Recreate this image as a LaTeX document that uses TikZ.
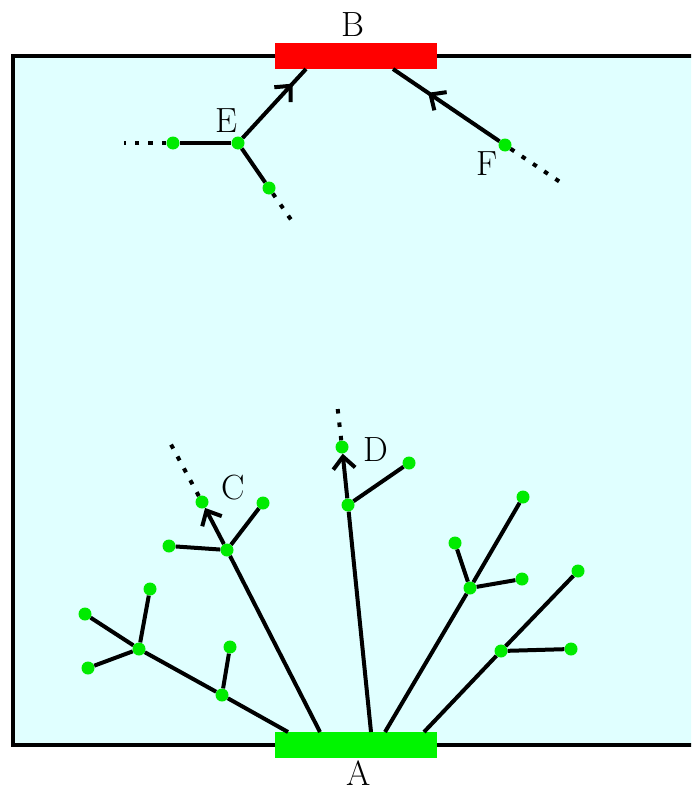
\documentclass[tikz,border=0pt]{standalone}
\usepackage{fontspec}
\usetikzlibrary{arrows.meta,decorations.markings}
\definecolor{bg}{RGB}{224,255,255}
\definecolor{dotgreen}{RGB}{0,235,0}
\definecolor{padgreen}{RGB}{0,245,0}
\definecolor{padred}{RGB}{255,0,0}
\tikzset{
  dotnode/.style={circle,fill=dotgreen,inner sep=0pt,minimum size=13pt},
  edge/.style={line width=4pt},
  dotline/.style={line width=4pt,dash pattern=on 4.5pt off 9pt},
  lbl/.style={font=\fontsize{35}{40}\selectfont,inner sep=0pt,anchor=base},
  tip/.style={-{Straight Barb[length=12pt,width=22pt]}},
  midtip/.style={postaction={decorate},decoration={markings,mark=at position #1 with {\arrow{Straight Barb[length=12pt,width=22pt]}}}},
  pad/.style={minimum width=162pt,minimum height=26pt,inner sep=0pt}
}
\begin{document}
\begin{tikzpicture}[x=1pt,y=-1pt]
\useasboundingbox (0,0) rectangle (691,792);
\clip (0,0) rectangle (691,792);
\draw[line width=4pt,fill=bg] (13,56) rectangle (710,745);
% pads
\node[pad,fill=padred] (B) at (356,56) {};
\node[pad,fill=padgreen] (A) at (356,745) {};
\node[lbl] (Blbl) at (353,37) {B};
\node[lbl] (Albl) at (359,785) {A};
% top nodes
\node[dotnode] (E) at (238,143) {};
\node[dotnode] (e1) at (173,143) {};
\node[dotnode] (e2) at (269,188) {};
\node[dotnode] (F) at (505,145) {};
\coordinate (e1d) at (124,143);
\coordinate (e2d) at (294,224);
\coordinate (Fd) at (563,184);
\coordinate (BE) at (306,69);
\coordinate (BF) at (393,69);
\node[lbl] (El) at (226,132) {E};
\node[lbl] (Fl) at (487,175) {F};
% bottom nodes
\node[dotnode] (n1) at (222,695) {};
\node[dotnode] (n2) at (139,649) {};
\node[dotnode] (n3) at (230,647) {};
\node[dotnode] (n4) at (85,614) {};
\node[dotnode] (n5) at (88,668) {};
\node[dotnode] (n6) at (150,589) {};
\node[dotnode] (c0) at (227,550) {};
\node[dotnode] (c1) at (169,546) {};
\node[dotnode] (c2) at (263,503) {};
\node[dotnode] (C) at (202,502) {};
\node[dotnode] (d0) at (348,505) {};
\node[dotnode] (d1) at (409,463) {};
\node[dotnode] (D) at (342,447) {};
\node[dotnode] (g0) at (470,588) {};
\node[dotnode] (g1) at (455,543) {};
\node[dotnode] (g2) at (522,579) {};
\node[dotnode] (g3) at (523,497) {};
\node[dotnode] (h0) at (501,651) {};
\node[dotnode] (h1) at (571,649) {};
\node[dotnode] (h2) at (578,571) {};
\coordinate (a1) at (288,732);
\coordinate (a2) at (320,732);
\coordinate (a3) at (371,732);
\coordinate (a4) at (385,732);
\coordinate (a5) at (424,732);
\coordinate (Cd) at (167,437);
\coordinate (Dd) at (337,403);
\node[lbl] (Cl) at (233,499) {C};
\node[lbl] (Dl) at (376,461) {D};
% top connectors
\draw[edge,midtip=0.79] (E) -- (BE);
\draw[edge,midtip=0.67] (F) -- (BF);
\draw[edge] (E) -- (e1);
\draw[edge] (E) -- (e2);
\draw[dotline] (e1) -- (e1d);
\draw[dotline] (e2) -- (e2d);
\draw[dotline] (F) -- (Fd);
% bottom connectors
\draw[edge] (a1) -- (n1);
\draw[edge] (n1) -- (n2);
\draw[edge] (n1) -- (n3);
\draw[edge] (n2) -- (n4);
\draw[edge] (n2) -- (n5);
\draw[edge] (n2) -- (n6);
\draw[edge] (a2) -- (c0);
\draw[edge] (c0) -- (c1);
\draw[edge] (c0) -- (c2);
\draw[edge,tip] (c0) -- (C);
\draw[dotline] (C) -- (Cd);
\draw[edge] (a3) -- (d0);
\draw[edge] (d0) -- (d1);
\draw[edge,tip] (d0) -- (D);
\draw[dotline] (D) -- (Dd);
\draw[edge] (a4) -- (g0);
\draw[edge] (g0) -- (g1);
\draw[edge] (g0) -- (g2);
\draw[edge] (g0) -- (g3);
\draw[edge] (a5) -- (h0);
\draw[edge] (h0) -- (h1);
\draw[edge] (h0) -- (h2);
\end{tikzpicture}
\end{document}
